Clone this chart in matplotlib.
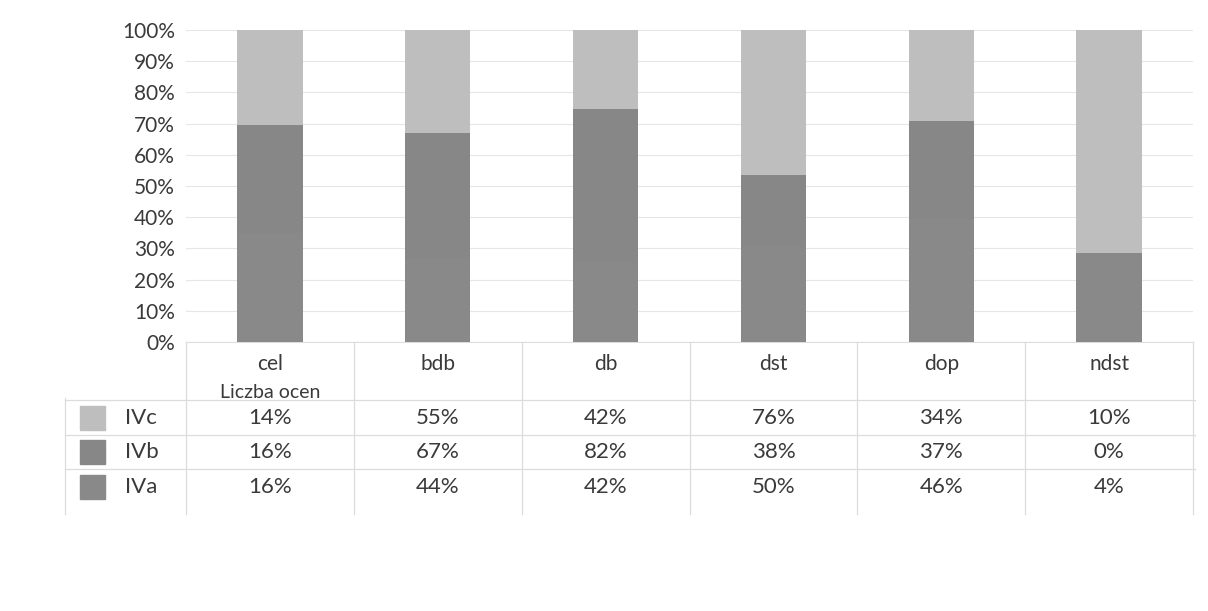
import matplotlib
matplotlib.use("Agg")
import matplotlib.pyplot as plt
import matplotlib.transforms as mtransforms
from matplotlib.lines import Line2D
from matplotlib.patches import Rectangle
import numpy as np

# data
categories = ["cel", "bdb", "db", "dst", "dop", "ndst"]
series_names = ["IVc", "IVb", "IVa"]
ivc = [14, 55, 42, 76, 34, 10]
ivb = [16, 67, 82, 38, 37, 0]
iva = [16, 44, 42, 50, 46, 4]
table_labels = {
    "IVc": ["14%", "55%", "42%", "76%", "34%", "10%"],
    "IVb": ["16%", "67%", "82%", "38%", "37%", "0%"],
    "IVa": ["16%", "44%", "42%", "50%", "46%", "4%"],
}
y_ticks = [0, 10, 20, 30, 40, 50, 60, 70, 80, 90, 100]

# scanned greys: IVa and IVb come out almost identical
COLOR_IVC = '#bebebe'
COLOR_IVB = '#878787'
COLOR_IVA = '#898989'
LINE_COLOR = '#dcdcdc'
TEXT_COLOR = '#3a3a3a'

plt.rcParams['font.family'] = ['Lato', 'DejaVu Sans']

W, H = 1208, 611
fig = plt.figure(figsize=(W / 100, H / 100), dpi=100)


def fy(py):
    """ pixel row -> figure fraction """
    return 1 - py / H


def fx(px):
    return px / W


ax = fig.add_axes([fx(186), fy(342), fx(1193) - fx(186), fy(30) - fy(342)])

x = np.arange(len(categories))
totals = np.add(np.add(ivc, ivb), iva)
p_a = np.array(iva) / totals * 100
p_b = np.array(ivb) / totals * 100
p_c = np.array(ivc) / totals * 100

bw = 0.39
ax.bar(x, p_a, bw, color=COLOR_IVA, zorder=3)
ax.bar(x, p_b, bw, bottom=p_a, color=COLOR_IVB, zorder=3)
ax.bar(x, p_c, bw, bottom=p_a + p_b, color=COLOR_IVC, zorder=3)

ax.set_xlim(-0.5, len(categories) - 0.5)
ax.set_ylim(0, 100)
ax.set_yticks(y_ticks)
ax.set_yticklabels([f"{t}%" for t in y_ticks], fontsize=15, color=TEXT_COLOR)
ax.set_xticks([])
ax.tick_params(axis='y', length=0, pad=8)
ax.yaxis.grid(True, color='#e6e6e6', linewidth=0.8, zorder=0)
for s in ['top', 'right', 'left']:
    ax.spines[s].set_visible(False)
ax.spines['bottom'].set_color(LINE_COLOR)

# data table drawn below the axes
tr = mtransforms.blended_transform_factory(ax.transData, fig.transFigure)
row_y = {"IVc": 418, "IVb": 452, "IVa": 487}
for i, cat in enumerate(categories):
    ax.text(i, fy(364), cat, transform=tr, ha='center', va='center',
            fontsize=15, color=TEXT_COLOR, clip_on=False)
    for name in series_names:
        ax.text(i, fy(row_y[name]), table_labels[name][i], transform=tr,
                ha='center', va='center', fontsize=16, color=TEXT_COLOR,
                clip_on=False)
ax.text(0, fy(392), "Liczba ocen", transform=tr, ha='center', va='center',
        fontsize=14, color=TEXT_COLOR, clip_on=False)

# vertical lines between columns
for b in np.arange(-0.5, len(categories), 1.0):
    ax.add_line(Line2D([b, b], [fy(342), fy(514)], transform=tr,
                       color=LINE_COLOR, linewidth=0.9, clip_on=False))
# horizontal lines of table
for py in [400, 435, 469]:
    fig.add_artist(Line2D([fx(65), fx(1195)], [fy(py), fy(py)],
                          color=LINE_COLOR, linewidth=0.9))
fig.add_artist(Line2D([fx(65), fx(65)], [fy(398), fy(514)],
                      color=LINE_COLOR, linewidth=0.9))

# legend keys
key_colors = {"IVc": COLOR_IVC, "IVb": COLOR_IVB, "IVa": COLOR_IVA}
for name in series_names:
    cy = row_y[name]
    fig.add_artist(Rectangle((fx(80), fy(cy + 12)), fx(25), fy(cy - 12) - fy(cy + 12),
                             color=key_colors[name], transform=fig.transFigure))
    fig.text(fx(125), fy(cy), name, ha='left', va='center', fontsize=16,
             color=TEXT_COLOR)

plt.savefig('out.png', dpi=100)
plt.close()
